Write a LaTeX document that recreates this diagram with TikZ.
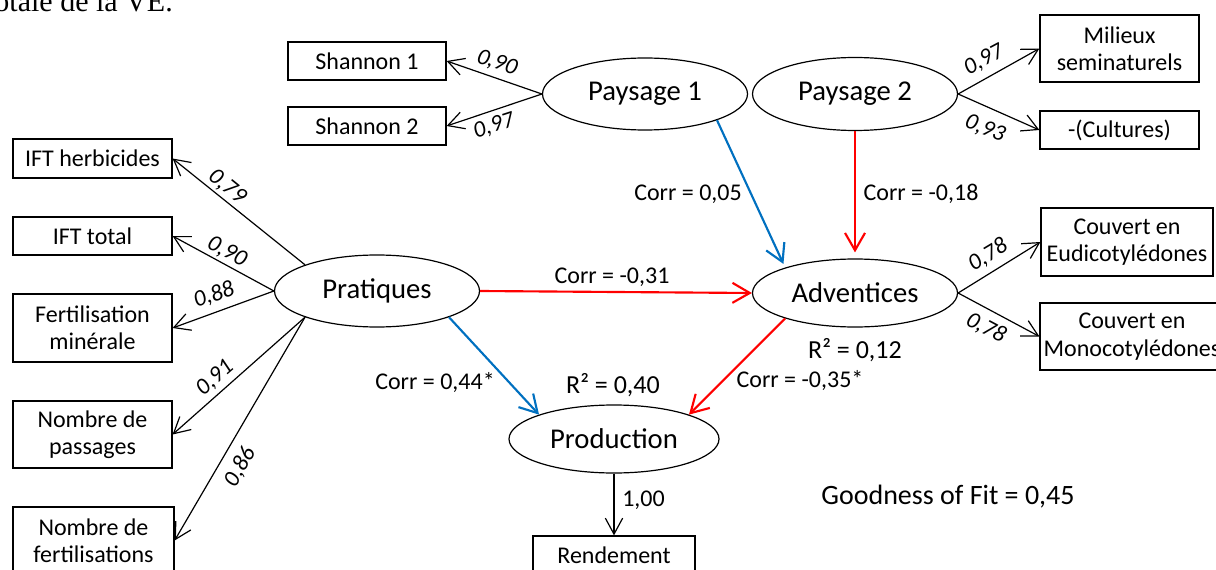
\documentclass[tikz,border=0pt]{standalone}
\usepackage{fontspec}
\setmainfont{Carlito}
\newfontfamily\timesfont{Liberation Serif}
\usetikzlibrary{arrows.meta,shapes.geometric}
\definecolor{corrblue}{RGB}{0,112,192}
\definecolor{corrred}{RGB}{255,0,0}
\tikzset{
  boxsize/.style 2 args={minimum width=#1*0.75pt, minimum height=#2*0.75pt},
  latent/.style={ellipse, draw, line width=0.9pt, inner sep=0pt,
    font=\fontsize{21.5}{24}\selectfont},
  manifest/.style={rectangle, draw, line width=0.9pt, inner sep=0pt, align=center,
    font=\fontsize{18}{20.5}\selectfont},
  loading/.style={line width=0.9pt, -{Straight Barb[length=12pt,width=13pt]}},
  poslink/.style={draw=corrblue, line width=1.6pt, -{Straight Barb[length=13pt,width=15pt]}},
  neglink/.style={draw=corrred, line width=1.6pt, -{Straight Barb[length=13pt,width=15pt]}},
  coef/.style={inner sep=0pt, font=\fontsize{17.5}{20}\selectfont\itshape},
  corrlabel/.style={inner sep=0pt, font=\fontsize{18}{20}\selectfont},
  rsq/.style={inner sep=0pt, font=\fontsize{19.5}{22}\selectfont},
}
\begin{document}
\begin{tikzpicture}[x=0.75pt, y=-0.75pt]
\useasboundingbox (0,0) rectangle (1216,570);

% end of the preceding sentence
\node[anchor=base east, inner sep=0pt, font=\timesfont\fontsize{22.5}{25}\selectfont] (capt) at (173,12) {otale de la VE.};

% latent variables
\node[latent, boxsize={205}{72}] (p1) at (645,94) {Paysage 1};
\node[latent, boxsize={205}{73}] (p2) at (855,94) {Paysage 2};
\node[latent, boxsize={205}{72}] (prat) at (377,291) {Pratiques};
\node[latent, boxsize={205}{68}] (adv) at (855,293) {Adventices};
\node[latent, boxsize={210}{68}] (prod) at (614,439) {Production};

% manifest variables
\node[manifest, boxsize={158}{38}] (s1) at (367,61) {Shannon 1};
\node[manifest, boxsize={158}{38}] (s2) at (367,126) {Shannon 2};
\node[manifest, boxsize={159}{67}] (mil) at (1119.5,48.5) {Milieux\\seminaturels};
\node[manifest, boxsize={159}{38}] (cult) at (1119.5,130) {-(Cultures)};
\node[manifest, boxsize={159}{39}] (herb) at (92.5,158.5) {IFT herbicides};
\node[manifest, boxsize={159}{38}] (tot) at (92.5,236) {IFT total};
\node[manifest, boxsize={159}{68}] (fert) at (92.5,328) {Fertilisation\\minérale};
\node[manifest, boxsize={159}{67}] (pass) at (92.5,434.5) {Nombre de\\passages};
\node[manifest, boxsize={161}{67}] (nfert) at (93.5,540.5) {Nombre de\\fertilisations};
\node[manifest, boxsize={172}{68}] (eud) at (1127,242) {Couvert en\\Eudicotylédones};
\node[manifest, boxsize={184}{67}] (mono) at (1132,336.5) {Couvert en\\Monocotylédones};
\node[manifest, boxsize={162}{38}] (rend) at (614,555) {Rendement};

% outer model loadings
\draw[loading] (p1.west) -- (s1.east);
\draw[loading] (p1.west) -- (s2.east);
\draw[loading] (p2.east) -- (mil.west);
\draw[loading] (p2.east) -- (cult.west);
\draw[loading] (prat.160) -- (herb.east);
\draw[loading] (prat.west) -- (tot.east);
\draw[loading] (prat.west) -- (fert.east);
\draw[loading] (prat.200) -- (pass.east);
\draw[loading] (prat.200) -- (nfert.east);
\draw[loading] (adv.east) -- (eud.west);
\draw[loading] (adv.east) -- (mono.west);
\draw[loading] (prod.south) -- (rend.north);

\node[coef, rotate=-19] (ls1) at (497,63) {0,90};
\node[coef, rotate=18] (ls2) at (494,126) {0,97};
\node[coef, rotate=28] (lmil) at (984,60) {0,97};
\node[coef, rotate=-22] (lcult) at (985,129) {0,93};
\node[coef, rotate=-39] (lherb) at (227,187) {0,79};
\node[coef, rotate=-28] (ltot) at (227,252) {0,90};
\node[coef, rotate=19] (lfert) at (214,295) {0,88};
\node[coef, rotate=41] (lpass) at (215,378) {0,91};
\node[coef, rotate=60] (lnfert) at (240,467) {0,86};
\node[coef, rotate=31] (leud) at (988,255) {0,78};
\node[coef, rotate=-28] (lmono) at (986,328) {0,78};
\node[corrlabel, anchor=west] (lrend) at (622,500) {1,00};

% inner model paths
\draw[poslink, shorten >=3pt] (p1.-20) -- (adv.160);
\draw[neglink, shorten >=4.5pt] (p2.south) -- (adv.north);
\draw[neglink] (prat.east) -- (adv.west);
\draw[poslink] (prat.-20) -- (prod.162);
\draw[neglink] (adv.200) -- (prod.18);

\node[corrlabel] (c1) at (688,194) {Corr = 0,05};
\node[corrlabel] (c2) at (921,194) {Corr = -0,18};
\node[corrlabel] (c3) at (612,277) {Corr = -0,31};
\node[corrlabel] (c4) at (435,383) {Corr = 0,44*};
\node[corrlabel] (c5) at (800,381) {Corr = -0,35*};

\node[rsq] (r1) at (855,350) {R² = 0,12};
\node[rsq] (r2) at (613,385) {R² = 0,40};

\node[inner sep=0pt, font=\fontsize{21}{24}\selectfont] (gof) at (948,497) {Goodness of Fit = 0,45};
\end{tikzpicture}
\end{document}
